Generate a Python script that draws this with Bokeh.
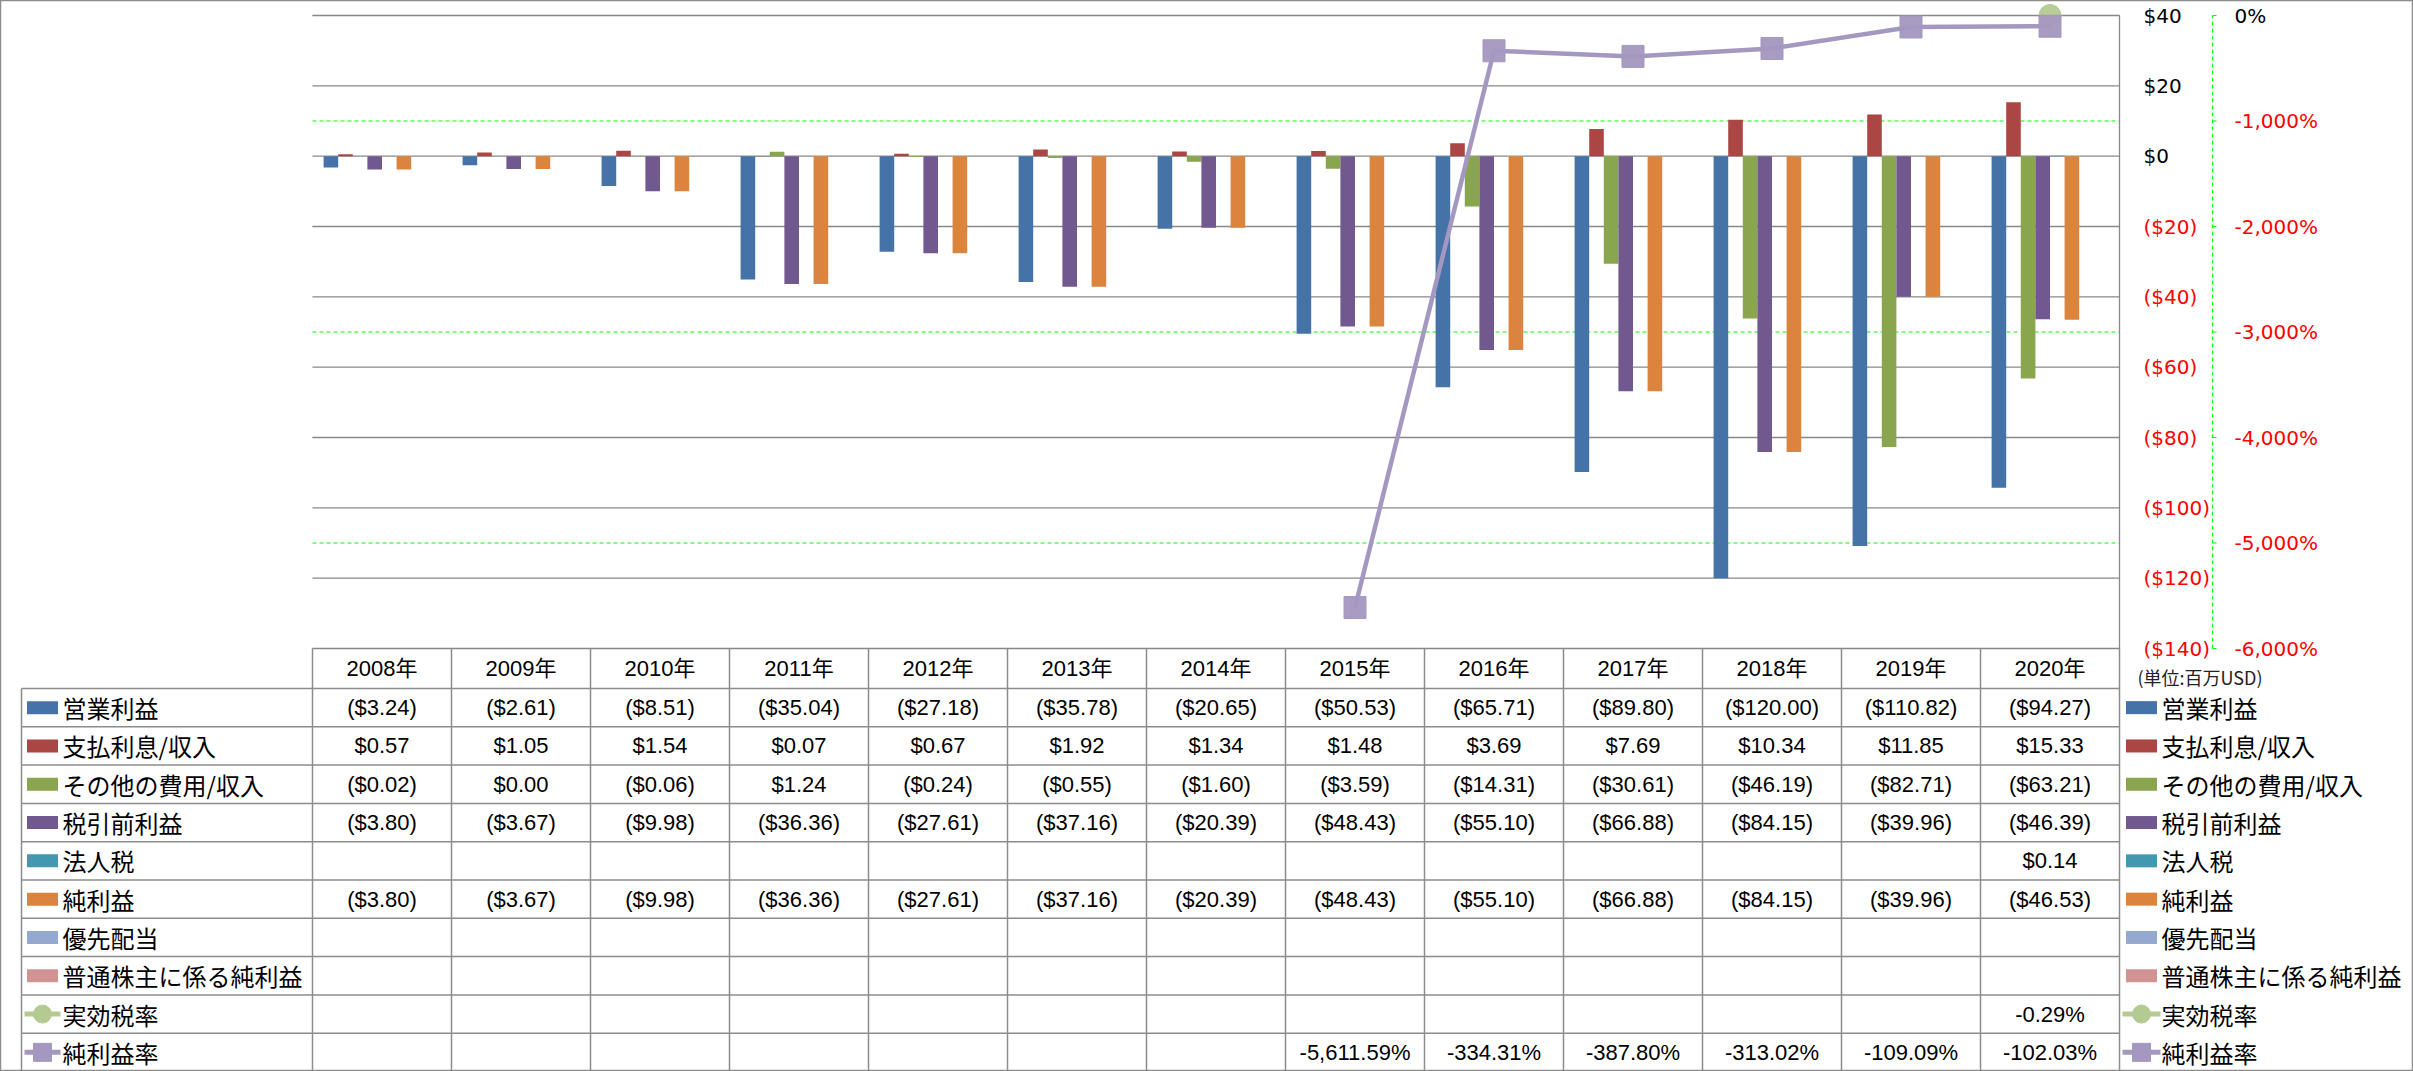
from bokeh.plotting import figure
from bokeh.models import Range1d
from bokeh.embed import file_html
from bokeh.resources import INLINE
from bokeh.core.properties import value

# ---------------- data ----------------
years = ["2008年", "2009年", "2010年", "2011年", "2012年", "2013年", "2014年",
         "2015年", "2016年", "2017年", "2018年", "2019年", "2020年"]

series_names = ["営業利益", "支払利息/収入", "その他の費用/収入", "税引前利益", "法人税",
                "純利益", "優先配当", "普通株主に係る純利益", "実効税率", "純利益率"]

operating_income = [-3.24, -2.61, -8.51, -35.04, -27.18, -35.78, -20.65, -50.53, -65.71, -89.80, -120.00, -110.82, -94.27]
interest_income = [0.57, 1.05, 1.54, 0.07, 0.67, 1.92, 1.34, 1.48, 3.69, 7.69, 10.34, 11.85, 15.33]
other_income = [-0.02, 0.00, -0.06, 1.24, -0.24, -0.55, -1.60, -3.59, -14.31, -30.61, -46.19, -82.71, -63.21]
pretax_income = [-3.80, -3.67, -9.98, -36.36, -27.61, -37.16, -20.39, -48.43, -55.10, -66.88, -84.15, -39.96, -46.39]
income_tax = [None, None, None, None, None, None, None, None, None, None, None, None, 0.14]
net_income = [-3.80, -3.67, -9.98, -36.36, -27.61, -37.16, -20.39, -48.43, -55.10, -66.88, -84.15, -39.96, -46.53]
preferred_dividends = [None, None, None, None, None, None, None, None, None, None, None, None, None]
common_net_income = [None, None, None, None, None, None, None, None, None, None, None, None, None]
effective_tax_rate = [None, None, None, None, None, None, None, None, None, None, None, None, -0.29]
net_margin = [None, None, None, None, None, None, None, -5611.59, -334.31, -387.80, -313.02, -109.09, -102.03]

bar_series = [operating_income, interest_income, other_income, pretax_income,
              income_tax, net_income, preferred_dividends, common_net_income]
line_series = [effective_tax_rate, net_margin]

series_colors = ["#4572A7", "#AA4643", "#89A54E", "#71588F", "#4198AF",
                 "#DB843D", "#93A9CF", "#D19392", "#B5CA92", "#A497C0"]
line_markers = ["circle", "square"]

usd_ticks = [40, 20, 0, -20, -40, -60, -80, -100, -120, -140]
pct_ticks = [0, -1000, -2000, -3000, -4000, -5000, -6000]
unit_note = "(単位:百万USD)"

# ---------------- layout constants (pixels) ----------------
W, H = 2413, 1071
PLOT_L, PLOT_R = 312, 2119      # plot area left / right
GRID_TOP, GRID_BOT = 15, 648    # top and bottom gridline
N = len(years)
COL_W = (PLOT_R - PLOT_L) / N
BAR_PX = 14.6
BW = BAR_PX / COL_W
HDR_PX = 40                     # table header row height
NR = len(series_names)
ROW_PX = (H - GRID_BOT - HDR_PX) / NR
HDR = HDR_PX / ROW_PX
LEG_L = 21                      # left edge of legend column
USD_LBL_X = 2143
PCT_AXIS_X = 2212
PCT_TICK_PX = 4
PCT_LBL_X = 2234

AXIS_FONT = "DejaVu Sans"
NUM_FONT = "Liberation Sans, Noto Sans CJK JP"
CJK_FONT = "Noto Sans CJK JP"
GRID_GRAY = "#888888"
TAB_GRAY = "#8C8C8C"
RED = "#FF0000"
LIME = "#00FF00"


def tx(px):
    return (px - PLOT_L) / COL_W


def fmt_usd(v):
    s = "${:,.2f}".format(abs(v))
    return "(" + s + ")" if v < 0 else s


def fmt_usd_tick(v):
    s = "${:,}".format(abs(v))
    return "(" + s + ")" if v < 0 else s


def fmt_pct(v):
    return "{:,.2f}%".format(v)


def fmt_pct_tick(v):
    return "{:,}%".format(v)


usd_min, usd_max = min(usd_ticks), max(usd_ticks)
pct_min, pct_max = min(pct_ticks), max(pct_ticks)
usd_px = (GRID_BOT - GRID_TOP) / (usd_max - usd_min)
pct_px = (GRID_BOT - GRID_TOP) / (pct_max - pct_min)

usd_range = Range1d(usd_max - (H - GRID_TOP) / usd_px, usd_max + GRID_TOP / usd_px)
pct_range = Range1d(pct_max - (H - GRID_TOP) / pct_px, pct_max + GRID_TOP / pct_px)
tab_range = Range1d((H - GRID_BOT) / ROW_PX, -GRID_BOT / ROW_PX)

p = figure(width=W, height=H, x_range=Range1d(tx(0), tx(W)), y_range=usd_range,
           x_axis_type=None, y_axis_type=None, toolbar_location=None, output_backend="svg",
           min_border=0, outline_line_color=TAB_GRAY, outline_line_width=1.5,
           background_fill_color="white", border_fill_color="white")
p.extra_y_ranges = {"pct": pct_range, "tab": tab_range}

# ---------------- gridlines ----------------
p.segment(x0=[0] * len(pct_ticks), x1=[N] * len(pct_ticks), y0=pct_ticks, y1=pct_ticks,
          y_range_name="pct", line_color=LIME, line_dash="4 3", line_width=1)
p.segment(x0=[0] * len(usd_ticks), x1=[N] * len(usd_ticks), y0=usd_ticks, y1=usd_ticks,
          line_color=GRID_GRAY, line_width=1.3)
p.segment(x0=[N], y0=[usd_min], x1=[N], y1=[usd_max], line_color=GRID_GRAY, line_width=1.3)

# ---------------- right axes ----------------
p.text(x=[tx(USD_LBL_X)] * len(usd_ticks), y=usd_ticks, text=[fmt_usd_tick(t) for t in usd_ticks],
       text_color=["black" if t >= 0 else RED for t in usd_ticks], text_align="left",
       text_baseline="middle", text_font=value(AXIS_FONT), text_font_size="20px")
p.segment(x0=[tx(PCT_AXIS_X)], x1=[tx(PCT_AXIS_X)], y0=[pct_min], y1=[pct_max], y_range_name="pct",
          line_color=LIME, line_dash="4 3", line_width=1)
p.segment(x0=[tx(PCT_AXIS_X)] * len(pct_ticks), x1=[tx(PCT_AXIS_X + PCT_TICK_PX)] * len(pct_ticks),
          y0=pct_ticks, y1=pct_ticks, y_range_name="pct", line_color=LIME, line_width=1)
p.text(x=[tx(PCT_LBL_X)] * len(pct_ticks), y=pct_ticks, y_range_name="pct",
       text=[fmt_pct_tick(t) for t in pct_ticks],
       text_color=["black" if t >= 0 else RED for t in pct_ticks], text_align="left",
       text_baseline="middle", text_font=value(AXIS_FONT), text_font_size="20px")

# ---------------- bars ----------------
nb = len(bar_series)
for j, vals in enumerate(bar_series):
    xs = [i + 0.5 + (j - (nb - 1) / 2) * BW for i in range(N) if vals[i] is not None]
    tops = [vals[i] for i in range(N) if vals[i] is not None]
    if xs:
        p.vbar(x=xs, top=tops, bottom=0, width=BW, fill_color=series_colors[j], line_color=None)

# ---------------- lines ----------------
for k, vals in enumerate(line_series):
    col = series_colors[nb + k]
    xs = [i + 0.5 for i in range(N) if vals[i] is not None]
    ys = [vals[i] for i in range(N) if vals[i] is not None]
    if len(xs) > 1:
        p.line(xs, ys, y_range_name="pct", line_color=col, line_width=4.5)
    p.scatter(xs, ys, y_range_name="pct", marker=line_markers[k], size=22,
              fill_color=col, line_color=col, fill_alpha=0.95)

# ---------------- data table ----------------
hy = [HDR + k for k in range(NR + 1)]
p.segment(x0=[tx(LEG_L)] * len(hy), x1=[N] * len(hy), y0=hy, y1=hy, y_range_name="tab",
          line_color=TAB_GRAY, line_width=1.5)
vx = list(range(N + 1))
p.segment(x0=vx, x1=vx, y0=[0] * len(vx), y1=[HDR + NR] * len(vx), y_range_name="tab",
          line_color=TAB_GRAY, line_width=1.5)
p.segment(x0=[tx(LEG_L)], x1=[tx(LEG_L)], y0=[HDR], y1=[HDR + NR], y_range_name="tab",
          line_color=TAB_GRAY, line_width=1.5)

# header
p.text(x=[i + 0.5 for i in range(N)], y=[HDR / 2] * N, text=years, y_range_name="tab",
       text_align="center", text_baseline="middle", text_font=value(NUM_FONT),
       text_font_size="22px", text_color="black")

# cells
all_series = bar_series + line_series
cx, cy, ct = [], [], []
for k, vals in enumerate(all_series):
    for i, v in enumerate(vals):
        if v is None:
            continue
        cx.append(i + 0.5)
        cy.append(HDR + k + 0.5)
        ct.append(fmt_pct(v) if k >= nb else fmt_usd(v))
p.text(x=cx, y=cy, text=ct, y_range_name="tab", text_align="center", text_baseline="middle",
       text_font=value(NUM_FONT), text_font_size="22px", text_color="black")

# legends (left and right of the table)
row_c = [HDR + k + 0.5 for k in range(NR)]
for sw_c, ln0, ln1, txt_x in [(42, 24, 60, 62), (2141, 2122, 2160, 2161)]:
    p.rect(x=[tx(sw_c)] * nb, y=row_c[:nb], y_range_name="tab", width=31, height=13,
           width_units="screen", height_units="screen", fill_color=series_colors[:nb], line_color=None)
    for k in range(len(line_series)):
        col = series_colors[nb + k]
        p.segment(x0=[tx(ln0)], x1=[tx(ln1)], y0=[row_c[nb + k]], y1=[row_c[nb + k]],
                  y_range_name="tab", line_color=col, line_width=5)
        p.scatter(x=[tx(sw_c)], y=[row_c[nb + k]], y_range_name="tab", marker=line_markers[k],
                  size=18, fill_color=col, line_color=col)
    p.text(x=[tx(txt_x)] * NR, y=row_c, text=series_names, y_range_name="tab", text_align="left",
           text_baseline="middle", text_font=value(CJK_FONT), text_font_size="24px", text_color="black")

# unit note
p.text(x=[tx(2137)], y=[HDR * 0.7], text=[unit_note], y_range_name="tab", text_align="left",
       text_baseline="middle", text_font=value(CJK_FONT), text_font_size="18px", text_color="#222222")

open("out.html", "w").write(file_html(p, INLINE, title="chart"))
